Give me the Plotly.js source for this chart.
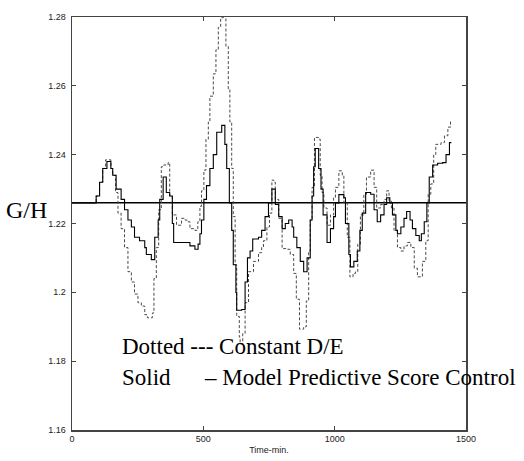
<!DOCTYPE html>
<html>
<head>
<meta charset="utf-8">
<script src="https://cdn.plot.ly/plotly-3.0.1.min.js"></script>
<style>html,body{margin:0;padding:0;background:#fff;}#chart{width:524px;height:461px;}</style>
</head>
<body>
<div id="chart"></div>
<script>
// Time (min) and G/H for Model Predictive Score Control (solid)
const tSolid = [0,80,92,105,117,133,148,155,168,187,200,213,226,238,257,277,283,302,315,328,334,347,359,372,382,387,442,449,468,480,487,493,502,512,525,538,551,570,582,589,599,608,614,624,627,646,659,668,678,688,710,722,735,748,761,774,787,800,812,825,838,844,856,869,882,895,907,914,920,926,939,948,956,971,984,996,1003,1016,1035,1041,1054,1060,1073,1086,1096,1105,1118,1137,1150,1162,1175,1188,1198,1210,1220,1233,1239,1252,1264,1274,1287,1296,1309,1322,1330,1341,1351,1360,1373,1392,1411,1424,1437,1442];
const ghSolid = [1.226,1.226,1.228,1.232,1.236,1.238,1.236,1.234,1.230,1.227,1.224,1.221,1.219,1.216,1.215,1.213,1.211,1.2095,1.216,1.221,1.227,1.2335,1.229,1.228,1.220,1.2145,1.2145,1.2135,1.2125,1.214,1.217,1.221,1.227,1.231,1.236,1.240,1.2465,1.2485,1.243,1.236,1.226,1.218,1.208,1.200,1.1948,1.195,1.203,1.210,1.212,1.2155,1.216,1.218,1.222,1.226,1.230,1.2255,1.222,1.2185,1.220,1.221,1.219,1.216,1.213,1.209,1.206,1.210,1.221,1.228,1.2365,1.2418,1.236,1.230,1.2225,1.2145,1.2185,1.222,1.226,1.2284,1.2275,1.220,1.211,1.2074,1.209,1.212,1.218,1.223,1.229,1.2285,1.224,1.2205,1.2225,1.2255,1.2275,1.226,1.2225,1.218,1.217,1.219,1.2215,1.2235,1.221,1.2185,1.2165,1.215,1.217,1.2205,1.226,1.2335,1.237,1.2375,1.2377,1.240,1.2435,1.2437];

// Time (min) and G/H for Constant D/E (dotted)
const tDotted = [0,80,92,105,117,128,140,148,155,166,175,187,200,213,226,238,251,264,277,287,306,312,321,330,340,349,366,372,382,398,417,430,439,449,468,479,487,493,502,510,519,525,538,548,557,566,576,586,595,601,608,614,621,627,637,640,650,659,672,691,710,722,729,742,752,761,768,774,787,800,819,831,844,854,866,882,892,901,907,914,923,939,945,952,959,971,984,996,1003,1016,1029,1035,1048,1058,1070,1079,1088,1098,1111,1121,1137,1150,1160,1175,1188,1198,1207,1216,1226,1239,1252,1264,1277,1290,1303,1315,1325,1334,1347,1356,1366,1377,1385,1405,1418,1431,1441];
const ghDotted = [1.226,1.226,1.228,1.232,1.236,1.2385,1.2385,1.236,1.234,1.229,1.223,1.2185,1.213,1.206,1.203,1.1995,1.197,1.196,1.1935,1.1926,1.194,1.204,1.213,1.224,1.2365,1.237,1.2377,1.228,1.2225,1.2195,1.2215,1.221,1.2205,1.2185,1.218,1.2205,1.225,1.2295,1.2355,1.2445,1.2495,1.257,1.2635,1.2705,1.277,1.2798,1.2805,1.2715,1.259,1.2495,1.236,1.222,1.208,1.193,1.187,1.185,1.188,1.197,1.206,1.209,1.2115,1.213,1.215,1.219,1.223,1.2326,1.232,1.227,1.2215,1.2127,1.2125,1.211,1.2055,1.198,1.1893,1.190,1.1975,1.212,1.221,1.2305,1.245,1.2445,1.234,1.229,1.2245,1.2195,1.2225,1.2275,1.2305,1.2353,1.234,1.226,1.216,1.2045,1.2055,1.206,1.214,1.2225,1.2285,1.2335,1.2355,1.2305,1.2245,1.2255,1.227,1.2295,1.2265,1.2245,1.218,1.213,1.212,1.2135,1.2145,1.213,1.207,1.2045,1.2045,1.209,1.215,1.2285,1.2315,1.240,1.243,1.2435,1.2455,1.248,1.250];

// Set point line
const tSet = [0, 1500];
const ghSet = [1.226, 1.226];

const xTicks = [0, 500, 1000, 1500];
const yTicks = [1.16, 1.18, 1.2, 1.22, 1.24, 1.26, 1.28];
const yTickText = ['1.16', '1.18', '1.2', '1.22', '1.24', '1.26', '1.28'];

const tickFont = {family: '"Liberation Sans Narrow", "Arial Narrow", "Liberation Sans", sans-serif', size: 9, color: '#222'};
const serif = '"Liberation Serif", "Times New Roman", serif';

const traces = [
  {x: tSet, y: ghSet, mode: 'lines', line: {color: '#000', width: 1.5}, hoverinfo: 'skip'},
  {x: tDotted, y: ghDotted, mode: 'lines', line: {color: '#4a4a4a', width: 1, dash: '3px,2px', shape: 'hv'}, name: 'Constant D/E'},
  {x: tSolid, y: ghSolid, mode: 'lines', line: {color: '#000', width: 1.1, shape: 'hv'}, name: 'Model Predictive Score Control'}
];

const axisCommon = {showgrid: false, zeroline: false, showline: true, linecolor: '#444', linewidth: 1.5, mirror: 'ticks', ticks: 'inside', ticklen: 4, tickcolor: '#444', tickfont: tickFont};

const layout = {
  width: 524, height: 461,
  margin: {l: 72, r: 58, t: 17, b: 31},
  paper_bgcolor: '#fff', plot_bgcolor: '#fff',
  showlegend: false,
  xaxis: Object.assign({}, axisCommon, {range: [0, 1500], tickvals: xTicks, ticktext: xTicks.map(String),
    title: {text: 'Time-min.', font: {family: tickFont.family, size: 9, color: '#222'}, standoff: 3}}),
  yaxis: Object.assign({}, axisCommon, {range: [1.16, 1.28], tickvals: yTicks, ticktext: yTickText, ticklabelstandoff: 3}),
  annotations: [
    {text: 'G/H', xref: 'paper', yref: 'y', x: -0.116, y: 1.224, xanchor: 'center', yanchor: 'middle', showarrow: false, font: {family: serif, size: 24, color: '#000'}},
    {text: 'Dotted --- Constant D/E', xref: 'paper', yref: 'paper', x: 0.122, y: 0.201, xanchor: 'left', yanchor: 'middle', showarrow: false, font: {family: serif, size: 23, color: '#000'}},
    {text: 'Solid\u00a0\u00a0\u00a0\u00a0\u00a0\u00a0\u2013\u00a0Model Predictive Score Control', xref: 'paper', yref: 'paper', x: 0.122, y: 0.126, xanchor: 'left', yanchor: 'middle', showarrow: false, font: {family: serif, size: 23, color: '#000'}}
  ]
};

Plotly.newPlot('chart', traces, layout, {staticPlot: true, displayModeBar: false});
</script>
</body>
</html>
